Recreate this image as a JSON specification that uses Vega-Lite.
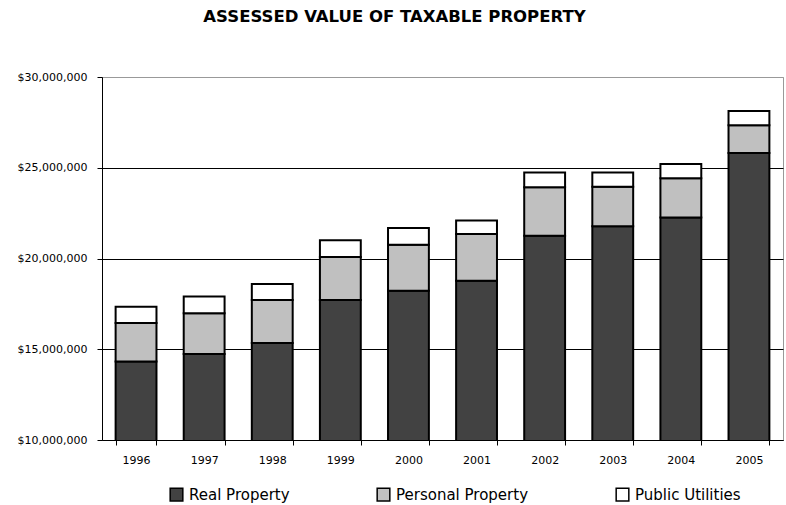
{
  "$schema": "https://vega.github.io/schema/vega-lite/v6.json",
  "autosize": {"type": "none"},
  "width": 681,
  "height": 363,
  "padding": {"left": 102, "top": 77, "right": 3, "bottom": 65},
  "background": "white",
  "title": {
    "text": "ASSESSED VALUE OF TAXABLE PROPERTY",
    "font": "DejaVu Sans",
    "fontSize": 16.5,
    "fontWeight": "bold",
    "color": "black",
    "anchor": "middle",
    "dx": -48,
    "offset": 46
  },
  "data": {
    "values": [
      {"year": "1996", "category": "Real Property", "value": 14320000},
      {"year": "1996", "category": "Personal Property", "value": 2120000},
      {"year": "1996", "category": "Public Utilities", "value": 900000},
      {"year": "1997", "category": "Real Property", "value": 14740000},
      {"year": "1997", "category": "Personal Property", "value": 2250000},
      {"year": "1997", "category": "Public Utilities", "value": 910000},
      {"year": "1998", "category": "Real Property", "value": 15350000},
      {"year": "1998", "category": "Personal Property", "value": 2370000},
      {"year": "1998", "category": "Public Utilities", "value": 880000},
      {"year": "1999", "category": "Real Property", "value": 17720000},
      {"year": "1999", "category": "Personal Property", "value": 2360000},
      {"year": "1999", "category": "Public Utilities", "value": 930000},
      {"year": "2000", "category": "Real Property", "value": 18220000},
      {"year": "2000", "category": "Personal Property", "value": 2540000},
      {"year": "2000", "category": "Public Utilities", "value": 920000},
      {"year": "2001", "category": "Real Property", "value": 18770000},
      {"year": "2001", "category": "Personal Property", "value": 2580000},
      {"year": "2001", "category": "Public Utilities", "value": 750000},
      {"year": "2002", "category": "Real Property", "value": 21250000},
      {"year": "2002", "category": "Personal Property", "value": 2670000},
      {"year": "2002", "category": "Public Utilities", "value": 820000},
      {"year": "2003", "category": "Real Property", "value": 21770000},
      {"year": "2003", "category": "Personal Property", "value": 2180000},
      {"year": "2003", "category": "Public Utilities", "value": 790000},
      {"year": "2004", "category": "Real Property", "value": 22260000},
      {"year": "2004", "category": "Personal Property", "value": 2160000},
      {"year": "2004", "category": "Public Utilities", "value": 790000},
      {"year": "2005", "category": "Real Property", "value": 25810000},
      {"year": "2005", "category": "Personal Property", "value": 1530000},
      {"year": "2005", "category": "Public Utilities", "value": 790000}
    ]
  },
  "mark": {"type": "bar", "clip": true, "stroke": "black", "strokeWidth": 2},
  "encoding": {
    "x": {
      "field": "year",
      "type": "nominal",
      "scale": {"paddingInner": 0.4, "paddingOuter": 0.2},
      "axis": {
        "title": null,
        "labelAngle": 0,
        "tickBand": "extent",
        "tickSize": 5,
        "tickColor": "black",
        "domainColor": "black",
        "labelFont": "DejaVu Sans",
        "labelFontSize": 11,
        "labelColor": "black",
        "labelPadding": 9
      }
    },
    "y": {
      "field": "value",
      "type": "quantitative",
      "stack": "zero",
      "scale": {"domain": [10000000, 30000000], "zero": false, "nice": false},
      "axis": {
        "title": null,
        "values": [10000000, 15000000, 20000000, 25000000, 30000000],
        "format": "$,.0f",
        "tickSize": 5,
        "tickColor": "black",
        "domainColor": "black",
        "labelFont": "DejaVu Sans",
        "labelFontSize": 11,
        "labelColor": "black",
        "labelPadding": 10,
        "grid": true,
        "gridColor": {"condition": {"test": "datum.value === 30000000", "value": "#999999"}, "value": "black"},
        "gridOpacity": 1,
        "gridWidth": 1
      }
    },
    "color": {
      "field": "category",
      "type": "nominal",
      "scale": {
        "domain": ["Real Property", "Personal Property", "Public Utilities"],
        "range": ["#424242", "#c0c0c0", "#ffffff"]
      },
      "legend": {
        "title": null,
        "orient": "none",
        "direction": "horizontal",
        "legendX": 67,
        "legendY": 410,
        "padding": 0,
        "columnPadding": 84,
        "symbolType": "square",
        "symbolSize": 160,
        "symbolStrokeColor": "black",
        "symbolStrokeWidth": 1.5,
        "symbolOpacity": 1,
        "labelFont": "DejaVu Sans",
        "labelFontSize": 15,
        "labelColor": "black",
        "labelOffset": 5
      }
    },
    "order": {"field": "category_order", "type": "quantitative"}
  },
  "config": {
    "view": {"stroke": "#999999", "strokeWidth": 1},
    "axis": {"domainWidth": 1, "tickWidth": 1}
  }
}
